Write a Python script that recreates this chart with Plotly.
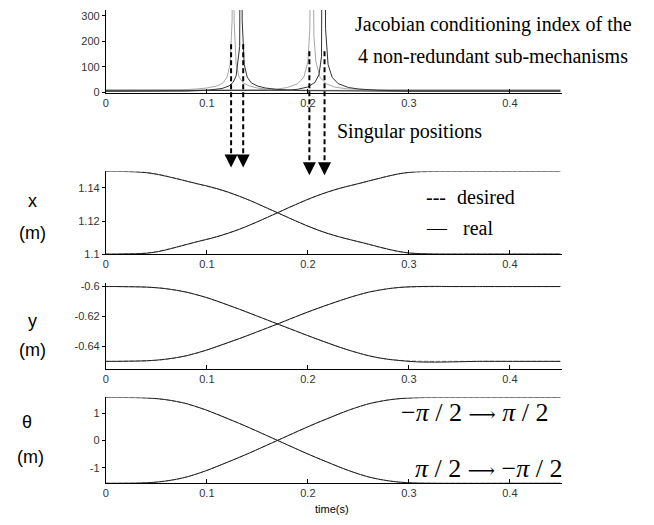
import plotly.graph_objects as go

# ---------------- data ----------------
# Top panel: Jacobian conditioning index of the 4 sub-mechanisms
t_cA = [0, 0.04, 0.07, 0.09, 0.10, 0.11, 0.116, 0.12, 0.123, 0.125, 0.1258, 0.1262, 0.127, 0.129, 0.132, 0.136, 0.142, 0.15, 0.16, 0.18, 0.22, 0.30, 0.45]
k_cA = [9, 9, 10, 14, 18, 26, 38, 60, 110, 280, 1500, 1500, 280, 110, 60, 38, 26, 18, 13, 10, 9, 9, 9]
t_cB = [0, 0.05, 0.08, 0.10, 0.115, 0.122, 0.126, 0.129, 0.1325, 0.1338, 0.1342, 0.135, 0.137, 0.14, 0.144, 0.15, 0.158, 0.168, 0.19, 0.23, 0.30, 0.45]
k_cB = [5, 5, 6, 9, 16, 26, 40, 65, 180, 1500, 1500, 280, 110, 60, 38, 26, 18, 13, 8, 6, 5, 5]
t_cC = [0, 0.10, 0.15, 0.17, 0.18, 0.19, 0.196, 0.20, 0.202, 0.2035, 0.2045, 0.206, 0.208, 0.212, 0.218, 0.226, 0.238, 0.255, 0.28, 0.35, 0.45]
k_cC = [11, 11, 11, 14, 20, 35, 60, 120, 250, 1500, 1500, 220, 120, 60, 35, 22, 15, 12, 11, 11, 11]
t_cD = [0, 0.10, 0.16, 0.18, 0.19, 0.20, 0.207, 0.211, 0.2135, 0.215, 0.216, 0.2175, 0.22, 0.224, 0.23, 0.24, 0.25, 0.27, 0.30, 0.45]
k_cD = [7, 7, 7, 9, 13, 22, 40, 70, 140, 1500, 1500, 250, 110, 60, 35, 20, 14, 9, 7, 7]

singular_t = [0.124, 0.136, 0.2015, 0.2165]

# Lower panels: common time samples
t = [0.00, 0.01, 0.02, 0.03, 0.04, 0.05, 0.06, 0.07, 0.08, 0.09,
     0.10, 0.11, 0.12, 0.13, 0.14, 0.15, 0.16, 0.17, 0.18, 0.19,
     0.20, 0.21, 0.22, 0.23, 0.24, 0.25, 0.26, 0.27, 0.28, 0.29,
     0.30, 0.31, 0.32, 0.33, 0.34, 0.37, 0.40, 0.45]

x_a_des = [1.1500, 1.1500, 1.1499, 1.1498, 1.1494, 1.1485, 1.1472, 1.1457, 1.1441, 1.1425,
           1.1410, 1.1394, 1.1375, 1.1354, 1.1330, 1.1304, 1.1277, 1.1250, 1.1223, 1.1196,
           1.1170, 1.1146, 1.1125, 1.1106, 1.1090, 1.1075, 1.1059, 1.1043, 1.1028, 1.1015,
           1.1006, 1.1003, 1.1001, 1.1000, 1.1000, 1.1000, 1.1000, 1.1000]
x_a_real = [1.1500, 1.1500, 1.1499, 1.1497, 1.1492, 1.1483, 1.1470, 1.1456, 1.1441, 1.1426,
            1.1412, 1.1396, 1.1377, 1.1355, 1.1331, 1.1305, 1.1277, 1.1250, 1.1222, 1.1195,
            1.1169, 1.1145, 1.1124, 1.1106, 1.1090, 1.1075, 1.1060, 1.1044, 1.1029, 1.1016,
            1.1007, 1.1003, 1.1001, 1.1000, 1.1000, 1.1000, 1.1000, 1.1000]
x_b_des = [1.1000, 1.1000, 1.1001, 1.1003, 1.1006, 1.1015, 1.1028, 1.1043, 1.1059, 1.1075,
           1.1090, 1.1106, 1.1125, 1.1146, 1.1170, 1.1196, 1.1223, 1.1250, 1.1277, 1.1304,
           1.1330, 1.1354, 1.1375, 1.1394, 1.1410, 1.1425, 1.1441, 1.1457, 1.1472, 1.1485,
           1.1494, 1.1498, 1.1499, 1.1500, 1.1500, 1.1500, 1.1500, 1.1500]
x_b_real = [1.1000, 1.1000, 1.1001, 1.1002, 1.1005, 1.1013, 1.1026, 1.1042, 1.1058, 1.1074,
            1.1089, 1.1105, 1.1124, 1.1145, 1.1169, 1.1195, 1.1222, 1.1250, 1.1278, 1.1305,
            1.1331, 1.1355, 1.1376, 1.1395, 1.1411, 1.1426, 1.1442, 1.1457, 1.1472, 1.1485,
            1.1494, 1.1498, 1.1499, 1.1500, 1.1500, 1.1500, 1.1500, 1.1500]

y_a_des = [-0.6000, -0.6000, -0.6001, -0.6001, -0.6003, -0.6007, -0.6014, -0.6024, -0.6037, -0.6055,
           -0.6075, -0.6098, -0.6122, -0.6146, -0.6171, -0.6197, -0.6224, -0.6250, -0.6277, -0.6303,
           -0.6329, -0.6354, -0.6378, -0.6402, -0.6425, -0.6445, -0.6463, -0.6476, -0.6486, -0.6493,
           -0.6497, -0.6499, -0.6500, -0.6500, -0.6500, -0.6500, -0.6500, -0.6500]
y_a_real = [-0.6000, -0.6000, -0.6001, -0.6002, -0.6004, -0.6008, -0.6015, -0.6025, -0.6038, -0.6055,
            -0.6074, -0.6097, -0.6121, -0.6146, -0.6172, -0.6198, -0.6224, -0.6250, -0.6276, -0.6302,
            -0.6328, -0.6353, -0.6378, -0.6402, -0.6424, -0.6444, -0.6462, -0.6476, -0.6487, -0.6494,
            -0.6500, -0.6504, -0.6505, -0.6505, -0.6504, -0.6500, -0.6500, -0.6500]
y_b_des = [-0.6500, -0.6500, -0.6499, -0.6499, -0.6497, -0.6493, -0.6486, -0.6476, -0.6463, -0.6445,
           -0.6425, -0.6402, -0.6378, -0.6354, -0.6329, -0.6303, -0.6277, -0.6250, -0.6224, -0.6197,
           -0.6171, -0.6146, -0.6122, -0.6098, -0.6075, -0.6055, -0.6037, -0.6024, -0.6014, -0.6007,
           -0.6003, -0.6001, -0.6001, -0.6000, -0.6000, -0.6000, -0.6000, -0.6000]
y_b_real = [-0.6500, -0.6500, -0.6499, -0.6498, -0.6496, -0.6492, -0.6485, -0.6475, -0.6462, -0.6444,
            -0.6424, -0.6401, -0.6377, -0.6353, -0.6328, -0.6302, -0.6276, -0.6250, -0.6223, -0.6196,
            -0.6170, -0.6145, -0.6121, -0.6098, -0.6076, -0.6056, -0.6038, -0.6025, -0.6014, -0.6006,
            -0.6002, -0.6000, -0.5999, -0.5999, -0.6000, -0.6000, -0.6000, -0.6000]

th_a_des = [1.5708, 1.5708, 1.5677, 1.5645, 1.5520, 1.5268, 1.4828, 1.4200, 1.3383, 1.2252,
            1.0996, 0.9550, 0.8042, 0.6534, 0.4964, 0.3330, 0.1665, 0.0000, -0.1665, -0.3330,
            -0.4964, -0.6534, -0.8042, -0.9550, -1.0996, -1.2252, -1.3383, -1.4200, -1.4828, -1.5268,
            -1.5520, -1.5645, -1.5677, -1.5708, -1.5708, -1.5708, -1.5708, -1.5708]
th_a_real = [1.5708, 1.5708, 1.5690, 1.5655, 1.5540, 1.5300, 1.4880, 1.4260, 1.3440, 1.2300,
             1.1030, 0.9580, 0.8060, 0.6540, 0.4960, 0.3320, 0.1650, -0.0010, -0.1680, -0.3350,
             -0.4990, -0.6560, -0.8070, -0.9570, -1.1010, -1.2260, -1.3380, -1.4190, -1.4810, -1.5250,
             -1.5520, -1.5660, -1.5700, -1.5720, -1.5730, -1.5740, -1.5715, -1.5708]
th_b_des = [-1.5708, -1.5708, -1.5677, -1.5645, -1.5520, -1.5268, -1.4828, -1.4200, -1.3383, -1.2252,
            -1.0996, -0.9550, -0.8042, -0.6534, -0.4964, -0.3330, -0.1665, 0.0000, 0.1665, 0.3330,
            0.4964, 0.6534, 0.8042, 0.9550, 1.0996, 1.2252, 1.3383, 1.4200, 1.4828, 1.5268,
            1.5520, 1.5645, 1.5677, 1.5708, 1.5708, 1.5708, 1.5708, 1.5708]
th_b_real = [-1.5708, -1.5708, -1.5690, -1.5650, -1.5530, -1.5280, -1.4850, -1.4230, -1.3410, -1.2280,
             -1.1010, -0.9560, -0.8050, -0.6540, -0.4970, -0.3330, -0.1660, 0.0005, 0.1670, 0.3340,
             0.4980, 0.6550, 0.8060, 0.9560, 1.1000, 1.2250, 1.3370, 1.4180, 1.4810, 1.5250,
             1.5510, 1.5650, 1.5700, 1.5715, 1.5725, 1.5740, 1.5715, 1.5708]

x_ticks = [0, 0.1, 0.2, 0.3, 0.4]
x_ticktext = ["0", "0.1", "0.2", "0.3", "0.4"]
k_ticks = [0, 100, 200, 300]
xpos_ticks = [1.10, 1.12, 1.14]
xpos_ticktext = ["1.1", "1.12", "1.14"]
ypos_ticks = [-0.64, -0.62, -0.60]
ypos_ticktext = ["-0.64", "-0.62", "-0.6"]
th_ticks = [-1, 0, 1]
th_ticktext = ["-1", "0", "1"]

# ---------------- figure ----------------
W, H = 654, 525
GRAY = "#a6a6a6"
DARK = "#333333"
DES = "#8a8a8a"
REAL = "#1a1a1a"

fig = go.Figure()

def line(xs, ys, ax, color, dash="solid", width=1):
    fig.add_trace(go.Scatter(x=xs, y=ys, mode="lines", xaxis="x" + ax, yaxis="y" + ax,
                             line=dict(color=color, width=width, dash=dash, shape="spline",
                                       smoothing=0.6),
                             showlegend=False, hoverinfo="skip"))

# panel 1
def kline(xs, ys, color):
    fig.add_trace(go.Scatter(x=xs, y=ys, mode="lines", xaxis="x", yaxis="y",
                             line=dict(color=color, width=1),
                             showlegend=False, hoverinfo="skip"))

kline(t_cA, k_cA, GRAY)
kline(t_cC, k_cC, GRAY)
kline(t_cB, k_cB, DARK)
kline(t_cD, k_cD, DARK)
# panel 2
line(t, x_a_des, "2", DES, "4px,2px")
line(t, x_b_des, "2", DES, "4px,2px")
line(t, x_a_real, "2", REAL)
line(t, x_b_real, "2", REAL)
# panel 3
line(t, y_a_des, "3", DES, "4px,2px")
line(t, y_b_des, "3", DES, "4px,2px")
line(t, y_a_real, "3", REAL)
line(t, y_b_real, "3", REAL)
# panel 4
line(t, th_a_des, "4", DES, "4px,2px")
line(t, th_b_des, "4", DES, "4px,2px")
line(t, th_a_real, "4", REAL)
line(t, th_b_real, "4", REAL)

XDOM = [103.3 / W, 562 / W]

def ydom(top_px, bot_px):
    return [1 - bot_px / H, 1 - top_px / H]

tickfont = dict(family="Liberation Sans", size=11, color="#333333")

def xax(anchor):
    return dict(domain=XDOM, range=[0, 0.452], anchor=anchor, showline=True, linecolor="black",
                linewidth=1, showgrid=False, zeroline=False, ticks="inside", ticklen=4,
                tickcolor="black", tickvals=x_ticks, ticktext=x_ticktext, tickfont=tickfont,
                fixedrange=True)

def yax(anchor, dom, rng, tv, tt):
    return dict(domain=dom, range=rng, anchor=anchor, showline=True, linecolor="black",
                linewidth=1, showgrid=False, zeroline=False, ticks="outside", ticklen=3,
                tickcolor="black", tickvals=tv, ticktext=tt, tickfont=tickfont,
                fixedrange=True)

fig.update_layout(
    width=W, height=H, margin=dict(l=0, r=0, t=0, b=0),
    paper_bgcolor="white", plot_bgcolor="white", showlegend=False,
    xaxis=xax("y"), xaxis2=xax("y2"), xaxis3=xax("y3"), xaxis4=xax("y4"),
    yaxis=yax("x", ydom(8, 92), [0, 323], k_ticks, [str(v) for v in k_ticks]),
    yaxis2=yax("x2", ydom(172, 256), [1.1, 1.15], xpos_ticks, xpos_ticktext),
    yaxis3=yax("x3", ydom(285, 372.5), [-0.655, -0.5974], ypos_ticks, ypos_ticktext),
    yaxis4=yax("x4", ydom(401.5, 488.5), [-1.562, 1.574], th_ticks, th_ticktext),
)

SERIF = "Liberation Serif"
SANS = "Liberation Sans"

def text(s, xpx, ypx, size, family=SERIF, xanchor="center"):
    fig.add_annotation(text=s, x=xpx / W, y=1 - ypx / H, xref="paper", yref="paper",
                       xanchor=xanchor, yanchor="middle", showarrow=False,
                       font=dict(family=family, size=size, color="black"))

text("Jacobian conditioning index of the", 493, 23, 20)
text("4 non-redundant sub-mechanisms", 492.5, 55, 20)
text("Singular positions", 408, 132, 20)
text("---", 423, 198, 20, xanchor="left")
text("desired", 454, 198, 20, xanchor="left")
text("\u2014", 423, 230, 20, xanchor="left")
text("real", 460, 230, 20, xanchor="left")
ARROW = "<span style='font-family:DejaVu Serif;font-size:19px'>\u27f6</span>"
text("\u2212<i>\u03c0</i> / 2 " + ARROW + " <i>\u03c0</i> / 2", 398, 417, 26, xanchor="left")
text("<i>\u03c0</i> / 2 " + ARROW + " \u2212<i>\u03c0</i> / 2", 412, 474, 26, xanchor="left")

text("x", 30, 202, 18, SANS)
text("(m)", 30, 235, 18, SANS)
text("y", 30, 324, 18, SANS)
text("(m)", 30, 353, 18, SANS)
text("\u03b8", 24, 427, 18, SANS)
text("(m)", 28, 462, 18, SANS)
text("time(s)", 331, 515, 11, SANS)

# dashed arrows marking singular positions
arrow_top = [43, 43, 50, 50]
arrow_tip = [168, 168, 176, 176]
for ts, ytop, ytip in zip(singular_t, arrow_top, arrow_tip):
    fig.add_shape(type="line", xref="x", yref="paper", x0=ts, x1=ts,
                  y0=1 - ytop / H, y1=1 - (ytip - 8) / H,
                  line=dict(color="black", width=2, dash="5px,3px"))
    fig.add_annotation(x=ts, y=1 - ytip / H, xref="x", yref="paper", ax=0, ay=-11,
                       showarrow=True, arrowhead=2, arrowsize=1.3, arrowwidth=2,
                       arrowcolor="black", text="")

fig.write_html("out.html")
